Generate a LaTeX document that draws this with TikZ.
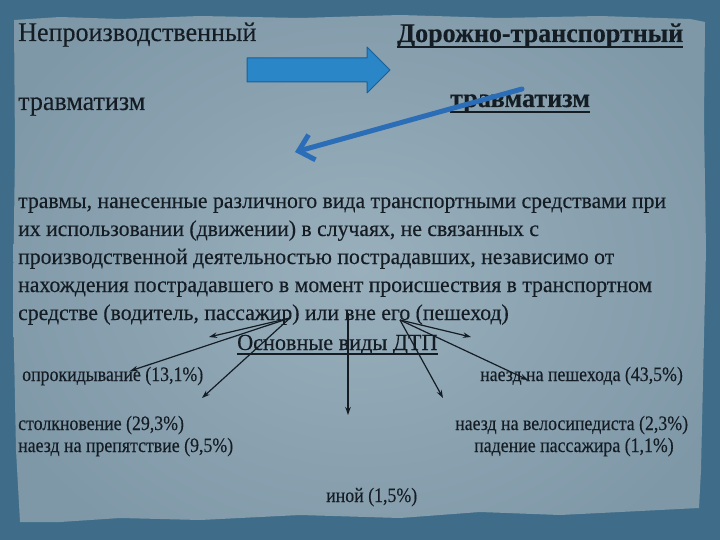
\documentclass[tikz,border=0pt]{standalone}
\usepackage{fontspec}
\setmainfont[FakeStretch=0.965,FakeBold=0.25]{Liberation Serif}
\newfontfamily\lblfont[FakeStretch=0.87,FakeBold=0.25]{Liberation Serif}
\usetikzlibrary{arrows.meta,calc}
\definecolor{frame}{HTML}{3F6D89}
\definecolor{paperlight}{HTML}{99AFBC}
\definecolor{paperdark}{HTML}{7F98A7}
\definecolor{ink}{HTML}{141C24}
\definecolor{bigblue}{HTML}{2A86C6}
\definecolor{bigblueedge}{HTML}{1B5F98}
\definecolor{thinblue}{HTML}{2B6DB6}
\tikzset{
  txt/.style={inner sep=0pt, anchor=base west, text=ink},
  hdr/.style={txt, font=\fontsize{27}{30}\selectfont},
  hdrb/.style={txt, font=\fontsize{27}{30}\selectfont\bfseries},
  body/.style={txt, font=\fontsize{22.5}{28}\selectfont},
  lbl/.style={txt, font=\lblfont\fontsize{20.5}{24}\selectfont},
  ul/.style={draw=ink, line width=1.8pt},
  arr/.style={draw=ink, line width=1.2pt, -{Stealth[length=8pt,width=5.5pt]}},
}
\begin{document}
\begin{tikzpicture}[x=1pt,y=-1pt]
\useasboundingbox (0,0) rectangle (720,540);
% frame
\fill[frame] (0,0) rectangle (720,540);
% paper
\begin{scope}
\clip (14,20) -- (60,17) -- (120,19) -- (200,16) -- (300,18) -- (400,15) -- (500,18) -- (600,16) -- (690,19) -- (705,22) -- (704,120) -- (706,250) -- (703,380) -- (701,470) -- (699,508) -- (640,511) -- (560,515) -- (480,512) -- (400,518) -- (300,515) -- (200,520) -- (120,518) -- (60,522) -- (20,522) -- (16,450) -- (13,300) -- (15,150) -- cycle;
\shade[inner color=paperlight, outer color=paperdark] (-40,-60) rectangle (760,600);
\end{scope}

% headings
\node[hdr]  (h1) at (18,41)  {Непроизводственный};
\node[hdrb] (h2) at (397,42) {Дорожно-транспортный};
\node[hdr]  (h3) at (18,110) {травматизм};
\node[hdrb] (h4) at (450,107) {травматизм};
\draw[ul] ([yshift=-5pt]h2.base west) -- ([yshift=-5pt]h2.base east);
\draw[ul] ([yshift=-5pt]h4.base west) -- ([yshift=-5pt]h4.base east);

% big blue arrow
\fill[bigblue, draw=bigblueedge, line width=1pt, line join=round]
  (247,58) -- (367,58) -- (367,47) -- (390,70) -- (367,93) -- (367,82) -- (247,82) -- cycle;

% thin blue arrow
\coordinate (ts) at (522,89);
\coordinate (te) at (295,152);
\draw[thinblue, line width=5pt, line cap=round, -{Straight Barb[length=14pt,width=26pt,line width=5pt]}] (ts) -- (te);

% paragraph
\node[body] (p1) at (18,208) {травмы, нанесенные различного вида транспортными средствами при};
\node[body] (p2) at (18,236) {их использовании (движении) в случаях, не связанных с};
\node[body] (p3) at (18,264) {производственной деятельностью пострадавших, независимо от};
\node[body] (p4) at (18,292) {нахождения пострадавшего в момент происшествия в транспортном};
\node[body] (p5) at (18,320) {средстве (водитель, пассажир) или вне его (пешеход)};

% title
\node[txt, font=\fontsize{23}{26}\selectfont] (t) at (237,350) {Основные виды ДТП};
\draw[draw=ink, line width=1.4pt] ([yshift=-4pt]t.base west) -- ([yshift=-4pt]t.base east);

% labels
\node[lbl] (l1) at (22,381)  {опрокидывание (13,1\%)};
\node[lbl] (r1) at (480,381) {наезд на пешехода (43,5\%)};
\node[lbl] (l2) at (18,430)  {столкновение (29,3\%)};
\node[lbl] (r2) at (455,430) {наезд на велосипедиста (2,3\%)};
\node[lbl] (l3) at (18,452)  {наезд на препятствие (9,5\%)};
\node[lbl] (r3) at (474,452) {падение пассажира (1,1\%)};
\node[lbl] (c1) at (326,502) {иной (1,5\%)};

% black arrows
\coordinate (L) at (290,318);
\coordinate (V) at (348,313);
\coordinate (R) at (400,320);
\coordinate (a1) at (209,337);
\coordinate (a2) at (130,371);
\coordinate (a3) at (202,398);
\coordinate (a4) at (348,415);
\coordinate (a5) at (471,337);
\coordinate (a6) at (528,380);
\coordinate (a7) at (443,398);
\draw[arr] (L) -- (a1);
\draw[arr] (L) -- (a2);
\draw[arr] (L) -- (a3);
\draw[arr] (V) -- (a4);
\draw[arr] (R) -- (a5);
\draw[arr] (R) -- (a6);
\draw[arr] (R) -- (a7);
\end{tikzpicture}
\end{document}
